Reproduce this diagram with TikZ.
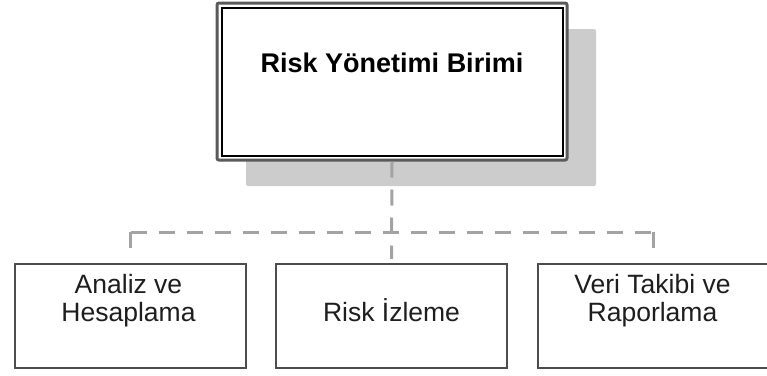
\documentclass[tikz,border=0pt]{standalone}
\usepackage{fontspec}
\setmainfont{Liberation Sans}
\usetikzlibrary{shadows}
\definecolor{shadegray}{HTML}{CCCCCC}
\definecolor{framegray}{HTML}{5A5A5A}
\definecolor{boxgray}{HTML}{4D4D4D}
\definecolor{linkgray}{HTML}{A3A3A3}
\definecolor{txtgray}{HTML}{1E1E1E}
\begin{document}
\begin{tikzpicture}[x=1pt,y=-1pt,
  headbox/.style={draw=framegray, line width=3pt, fill=white, rounded corners=2pt,
    minimum width=350pt, minimum height=157pt, inner sep=0pt,
    drop shadow={shadow xshift=29pt, shadow yshift=-26pt, fill=shadegray, opacity=1}},
  unitbox/.style={draw=boxgray, line width=2.5pt, fill=white,
    minimum width=231pt, minimum height=104pt, inner sep=0pt},
  unittext/.style={anchor=base, align=center, text=txtgray, inner sep=0pt,
    font=\fontsize{26.5}{28}\selectfont},
  headtext/.style={anchor=base, inner sep=0pt, font=\fontsize{27}{30}\selectfont\bfseries},
  link/.style={draw=linkgray, line width=3pt, dash pattern=on 16pt off 12pt}]
\useasboundingbox (0,0) rectangle (767,375);

% top unit
\node[headbox] (top) at (392,81.5) {};
\draw[black, line width=2pt] ([xshift=6pt,yshift=-6pt]top.north west)
  rectangle ([xshift=-6pt,yshift=6pt]top.south east);
\node[headtext] (toptxt) at ([yshift=-71pt]top.north) {Risk Yönetimi Birimi};

% sub units
\node[unitbox] (u1) at (130.5,316) {};
\node[unitbox] (u2) at (391.5,316) {};
\node[unitbox] (u3) at (653.5,316) {};

% captions: the base anchor sits on the last line
\node[unittext] (t1) at ([xshift=-2pt,yshift=-59pt]u1.north) {Analiz ve\\Hesaplama};
\node[unittext] (t2) at ([yshift=-59pt]u2.north) {Risk İzleme};
\node[unittext] (t3) at ([xshift=-1pt,yshift=-59pt]u3.north) {Veri Takibi ve\\Raporlama};

% dashed links
\coordinate (hub) at (392,232);
\draw[link] (top.south) -- ([yshift=4pt]u2.north);
\draw[link] (u1.north |- hub) -- (u3.north |- hub);
\draw[link] (u1.north |- hub) -- ([yshift=4pt]u1.north);
\draw[link] (u3.north |- hub) -- ([yshift=4pt]u3.north);
\end{tikzpicture}
\end{document}
